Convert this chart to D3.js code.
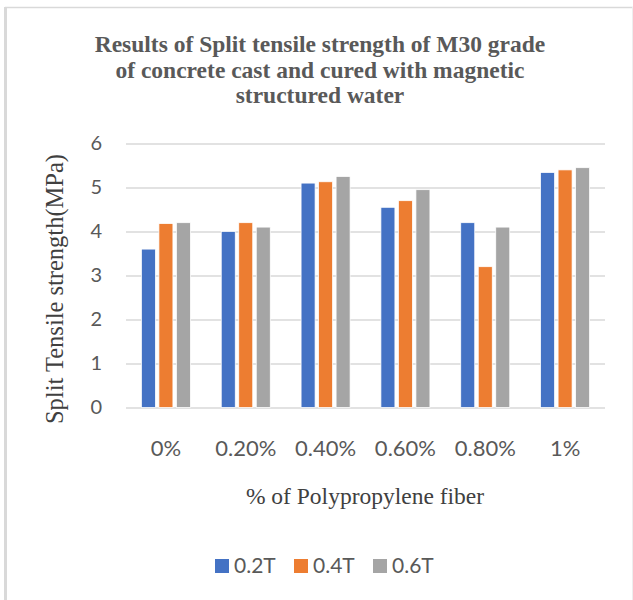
<!DOCTYPE html>
<html>
<head>
<meta charset="utf-8">
<script src="https://cdn.jsdelivr.net/npm/d3@7"></script>
<style>
    body { margin: 0; background: #fff; }
    svg { display: block; }
</style>
</head>
<body>
<svg width="633" height="600"></svg>
<script>
const categories = ['0%', '0.20%', '0.40%', '0.60%', '0.80%', '1%'];
const seriesNames = ['0.2T', '0.4T', '0.6T'];
const values02T = [3.6, 4.0, 5.1, 4.55, 4.2, 5.34];
const values04T = [4.18, 4.2, 5.13, 4.7, 3.2, 5.4];
const values06T = [4.2, 4.1, 5.25, 4.95, 4.1, 5.45];
const yTicks = [0, 1, 2, 3, 4, 5, 6];
const titleLines = [
    'Results of Split tensile strength of M30 grade',
    'of concrete cast and cured with magnetic',
    'structured water'
];

const seriesValues = [values02T, values04T, values06T];
const colors = ['#4472C4', '#ED7D31', '#A5A5A5'];

const svg = d3.select('svg');

// frame of the chart area
svg.append('line')
    .attr('x1', 5).attr('x2', 633)
    .attr('y1', 7.5).attr('y2', 7.5)
    .attr('stroke', '#d9d9d9')
    .attr('stroke-width', 1.5);
svg.append('line')
    .attr('x1', 5.5).attr('x2', 5.5)
    .attr('y1', 7).attr('y2', 600)
    .attr('stroke', '#d9d9d9')
    .attr('stroke-width', 3);
svg.append('line')
    .attr('x1', 632.5).attr('x2', 632.5)
    .attr('y1', 7).attr('y2', 600)
    .attr('stroke', '#eeeeee')
    .attr('stroke-width', 1);

svg.append('g')
    .selectAll('text')
    .data(titleLines)
    .enter()
    .append('text')
    .attr('x', 320)
    .attr('y', (d, i) => 52 + i * 25.5)
    .attr('text-anchor', 'middle')
    .attr('font-family', '"Liberation Serif", "Times New Roman", serif')
    .attr('font-weight', 'bold')
    .attr('font-size', 23.5)
    .attr('fill', '#595959')
    .text(d => d);

const x0 = d3.scaleBand()
    .domain(categories)
    .range([126, 605])
    .paddingInner(0.386)
    .paddingOuter(0.193);

const x1 = d3.scaleBand()
    .domain(seriesNames)
    .range([0, x0.bandwidth()])
    .paddingInner(0.2);

const y = d3.scaleLinear()
    .domain([0, 6])
    .range([407.5, 143.5]);

const yAxis = svg.append('g')
    .attr('transform', 'translate(126,0)')
    .call(d3.axisLeft(y)
        .tickValues(yTicks)
        .tickFormat(d3.format('d'))
        .tickSize(-479)
        .tickPadding(24));
yAxis.select('.domain').remove();
yAxis.selectAll('.tick line')
    .attr('stroke', '#d9d9d9')
    .attr('stroke-width', 1.5);
yAxis.selectAll('.tick text')
    .attr('font-family', 'Lato, "Open Sans", sans-serif')
    .attr('font-size', 20)
    .attr('fill', '#595959');

const groups = svg.append('g')
    .selectAll('g')
    .data(categories)
    .enter()
    .append('g')
    .attr('transform', d => `translate(${x0(d)},0)`);

groups.selectAll('rect')
    .data((c, ci) => seriesNames.map((s, si) => ({ s, v: seriesValues[si][ci], color: colors[si] })))
    .enter()
    .append('rect')
    .attr('x', d => x1(d.s))
    .attr('y', d => y(d.v))
    .attr('width', x1.bandwidth())
    .attr('height', d => y(0) - y(d.v))
    .attr('fill', d => d.color)
    .attr('stroke', '#ffffff')
    .attr('stroke-width', 0.75);

const xAxis = svg.append('g')
    .attr('transform', 'translate(0,407.5)')
    .call(d3.axisBottom(x0).tickSize(0).tickPadding(33));
xAxis.select('.domain').remove();
xAxis.selectAll('.tick text')
    .attr('font-family', 'Lato, "Open Sans", sans-serif')
    .attr('font-size', 22)
    .attr('fill', '#595959');

svg.append('text')
    .attr('x', 365)
    .attr('y', 504)
    .attr('text-anchor', 'middle')
    .attr('font-family', '"Liberation Serif", "Times New Roman", serif')
    .attr('font-size', 23.5)
    .attr('fill', '#404040')
    .text('% of Polypropylene fiber');

svg.append('text')
    .attr('transform', 'translate(63,289) rotate(-90)')
    .attr('text-anchor', 'middle')
    .attr('font-family', '"Liberation Serif", "Times New Roman", serif')
    .attr('font-size', 24.5)
    .attr('fill', '#404040')
    .text('Split Tensile strength(MPa)');

const legend = svg.append('g')
    .selectAll('g')
    .data(seriesNames)
    .enter()
    .append('g')
    .attr('transform', (d, i) => `translate(${215 + i * 79},559)`);

legend.append('rect')
    .attr('width', 14)
    .attr('height', 14)
    .attr('fill', (d, i) => colors[i]);

legend.append('text')
    .attr('x', 19)
    .attr('y', 13.5)
    .attr('font-family', 'Lato, "Open Sans", sans-serif')
    .attr('font-size', 21)
    .attr('fill', '#595959')
    .text(d => d);
</script>
</body>
</html>
